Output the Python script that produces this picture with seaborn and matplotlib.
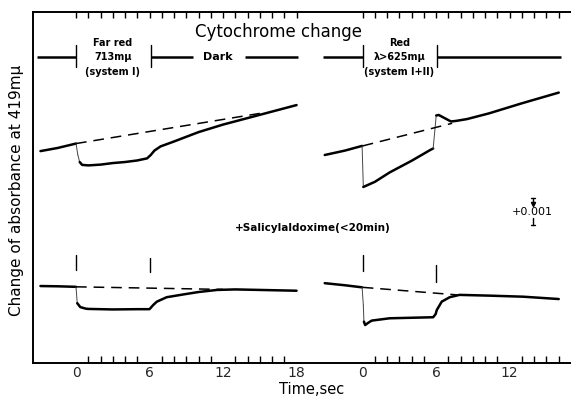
import numpy as np
import pandas as pd
import matplotlib
matplotlib.use("Agg")
import matplotlib.pyplot as plt
import seaborn as sns

# ---------------- data (absorbance change in units of 0.001, time in s) ----------------
RIGHT_OFFSET = 23.4   # where the second record (red light) starts on the shared time axis

# upper left: far red 713 mu (system I), control
ul_t = [-2.9, -1.5, 0.0, 0.15, 0.3, 0.5, 1, 2, 3, 4, 5, 5.8, 6.1, 6.4, 6.9, 8, 10, 12, 14, 16, 18]
ul_a = [8.15, 8.27, 8.44, 8.00, 7.73, 7.62, 7.60, 7.63, 7.69, 7.73, 7.79, 7.87, 8.00, 8.17, 8.33,
        8.52, 8.88, 9.17, 9.42, 9.67, 9.92]
ul_fast = [(2, 4)]
ul_base_t = [0, 15]
ul_base_a = [8.44, 9.60]

# upper right: red > 625 mu (system I+II), control
ur_t = [-3.1, -1.45, -0.05, 0.05, 1, 2.2, 4, 5.5, 5.75, 6.0, 6.2, 6.6, 7.2, 7.6, 8.5, 10.3, 13, 16]
ur_a = [8.00, 8.17, 8.35, 6.77, 6.97, 7.33, 7.78, 8.19, 8.25, 9.52, 9.54, 9.44, 9.29, 9.31, 9.38,
        9.60, 9.99, 10.40]
ur_fast = [(2, 3), (8, 9)]
ur_base_t = [0, 7.3]
ur_base_a = [8.35, 9.22]

# lower left: far red + salicylaldoxime
ll_t = [-2.9, -1.5, 0.0, 0.1, 0.35, 0.8, 1, 3, 5, 6, 6.3, 6.6, 7.4, 8.8, 10, 11.5, 13, 15, 17, 18]
ll_a = [2.96, 2.95, 2.93, 2.30, 2.15, 2.09, 2.08, 2.06, 2.07, 2.07, 2.23, 2.36, 2.53, 2.64, 2.73,
        2.81, 2.83, 2.81, 2.79, 2.78]
ll_fast = [(2, 3)]
ll_base_t = [0, 12]
ll_base_a = [2.93, 2.83]

# lower right: red + salicylaldoxime
lr_t = [-3.1, -1.45, -0.05, 0.05, 0.1, 0.2, 0.43, 0.73, 2.2, 5.75, 5.95, 6.05, 6.45, 7.1, 7.9,
        10.4, 13.1, 16]
lr_a = [3.07, 2.99, 2.91, 2.23, 1.59, 1.46, 1.54, 1.63, 1.72, 1.76, 1.88, 2.04, 2.36, 2.53, 2.62,
        2.59, 2.55, 2.46]
lr_fast = [(2, 4)]
lr_base_t = [0, 7.7]
lr_base_a = [2.91, 2.62]

# light on/off markers in the lower records (time, bottom, top)
mark_t = [0, 6, 0, 6]
mark_panel = ["left", "left", "right", "right"]
mark_lo = [3.58, 3.51, 3.55, 3.13]
mark_hi = [4.15, 4.05, 4.15, 3.77]

major_left = [0, 6, 12, 18]
major_right = [0, 6, 12]
minor_left_max = 18
minor_right_max = 16

# ---------------- drawing ----------------
sns.set_theme(style="white")
plt.rcParams["font.family"] = ["DejaVu Sans"]

fig = plt.figure(figsize=(5.71, 3.98), dpi=100)
ax = fig.add_axes([33 / 571, 35 / 398, 538 / 571, 351 / 398])
K = "black"
LW = 1.8


def shift(t, panel):
    return np.asarray(t, dtype=float) + (RIGHT_OFFSET if panel == "right" else 0.0)


def draw_trace(t, a, fast, panel):
    t = shift(t, panel)
    a = np.asarray(a, dtype=float)
    fast_idx = set()
    for s, e in fast:
        fast_idx.update(range(s, e))
    run = [0]
    for i in range(len(t) - 1):
        if i in fast_idx:
            if len(run) > 1:
                sns.lineplot(x=t[run], y=a[run], ax=ax, color=K, lw=LW, sort=False,
                             estimator=None, solid_capstyle="round")
            run = [i + 1]
            sns.lineplot(x=t[i:i + 2], y=a[i:i + 2], ax=ax, color="#444444", lw=0.7,
                         sort=False, estimator=None)
        else:
            run.append(i + 1)
    if len(run) > 1:
        sns.lineplot(x=t[run], y=a[run], ax=ax, color=K, lw=LW, sort=False,
                     estimator=None, solid_capstyle="round")


def draw_base(t, a, panel):
    ax.plot(shift(t, panel), a, color=K, lw=1.1, dashes=(7, 4.5))


draw_trace(ul_t, ul_a, ul_fast, "left")
draw_trace(ur_t, ur_a, ur_fast, "right")
draw_trace(ll_t, ll_a, ll_fast, "left")
draw_trace(lr_t, lr_a, lr_fast, "right")
draw_base(ul_base_t, ul_base_a, "left")
draw_base(ur_base_t, ur_base_a, "right")
draw_base(ll_base_t, ll_base_a, "left")
draw_base(lr_base_t, lr_base_a, "right")

for t, p, lo, hi in zip(mark_t, mark_panel, mark_lo, mark_hi):
    x = float(shift([t], p)[0])
    ax.plot([x, x], [lo, hi], color=K, lw=1.0)

# illumination bars at top
hy = 11.78
for x0, x1 in [(-3.16, 0), (6.1, 9.55), (13.8, 18.1)]:
    ax.plot([x0, x1], [hy, hy], color=K, lw=1.8, solid_capstyle="butt")
for x0, x1 in [(-3.24, 0), (6.04, 16.2)]:
    ax.plot([x0 + RIGHT_OFFSET, x1 + RIGHT_OFFSET], [hy, hy], color=K, lw=1.8, solid_capstyle="butt")
for x in [0, 6.1, RIGHT_OFFSET, RIGHT_OFFSET + 6.04]:
    ax.plot([x, x], [11.40, 12.22], color=K, lw=1.0)

tb = dict(ha="center", va="center", fontsize=7, fontweight="bold", color=K)
ax.text(3.0, 12.31, "Far red", **tb)
ax.text(3.0, 11.77, "713m\u03bc", **tb)
ax.text(3.0, 11.19, "(system I)", **tb)
ax.text(11.55, 11.77, "Dark", ha="center", va="center", fontsize=8, fontweight="bold", color=K)
ax.text(RIGHT_OFFSET + 3.0, 12.31, "Red", **tb)
ax.text(RIGHT_OFFSET + 3.0, 11.77, "\u03bb>625m\u03bc", **tb)
ax.text(RIGHT_OFFSET + 3.0, 11.19, "(system I+II)", **tb)

ax.text(16.5, 12.73, "Cytochrome change", ha="center", va="center", fontsize=12, color=K)
ax.text(19.3, 5.19, "+Salicylaldoxime(<20min)", ha="center", va="center", fontsize=7.5,
        fontweight="bold", color=K)

# scale bar
sx = 37.3
ax.plot([sx, sx], [6.08, 6.35], color=K, lw=1.0)
ax.plot([sx - 0.15, sx + 0.15], [6.35, 6.35], color=K, lw=1.0)
ax.plot([sx], [6.12], marker="v", ms=3, color=K)
ax.plot([sx, sx], [5.31, 5.58], color=K, lw=1.0)
ax.plot([sx - 0.2, sx + 0.2], [5.31, 5.31], color=K, lw=1.0)
ax.text(37.2, 5.80, "+0.001", ha="center", va="center", fontsize=8, color=K)

# axes
ax.set_xlim(-3.51, 40.4)
ax.set_ylim(0, 13.5)
majors = list(major_left) + [m + RIGHT_OFFSET for m in major_right]
labels = [str(m) for m in major_left] + [str(m) for m in major_right]
minors = [m for m in range(1, minor_left_max) if m not in major_left] + \
         [m + RIGHT_OFFSET for m in range(1, minor_right_max + 1) if m not in major_right]
ax.set_xticks(majors)
ax.set_xticklabels(labels, fontsize=10)
ax.set_xticks(minors, minor=True)
ax.set_yticks([])
ax.tick_params(axis="x", which="major", direction="in", length=8, width=1.0, color=K, pad=2.5)
ax.tick_params(axis="x", which="minor", direction="in", length=5, width=1.0, color=K, bottom=True)
top = ax.secondary_xaxis("top")
top.set_xticks(majors + minors)
top.set_xticklabels([])
top.tick_params(direction="in", length=4, width=1.0, color=K)
top.spines["top"].set_visible(False)

for s in ["left", "bottom", "top"]:
    ax.spines[s].set_color(K)
    ax.spines[s].set_linewidth(1.4)
ax.spines["right"].set_visible(False)

ax.set_xlabel("")
ax.set_ylabel("")
fig.text(312 / 571, 1 - 390 / 398, "Time,sec", ha="center", va="center", fontsize=10.5, color=K)
fig.text(17 / 571, 1 - 190 / 398, "Change of absorbance at 419m\u03bc", ha="center", va="center",
         rotation=90, fontsize=11, color=K)

fig.savefig("out.png", dpi=100, facecolor="white")
